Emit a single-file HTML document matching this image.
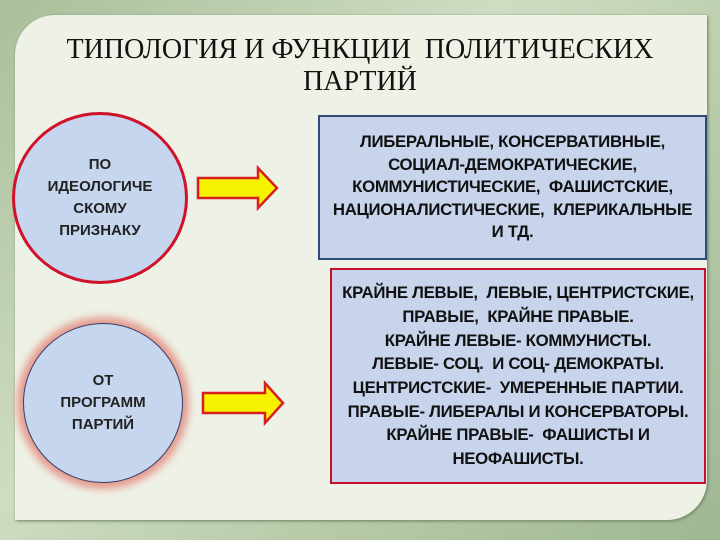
<!DOCTYPE html>
<html><head><meta charset="utf-8"><style>
body{margin:0;width:720px;height:540px;overflow:hidden;background:linear-gradient(135deg,#a9bf9a,#cfdcc2 40%,#b5c9a6 70%,#9fb793);font-family:"Liberation Sans","DejaVu Sans",sans-serif;position:relative}
.panel{position:absolute;left:15px;top:15px;width:692px;height:505px;background:#eef1e6;border-radius:40px 0 40px 0;box-shadow:1px 1px 3px #6a7f60}
.title{position:absolute;left:0;width:720px;top:34px;text-align:center;font-family:"Liberation Serif",serif;font-size:28px;line-height:32px;color:#111}
.c{position:absolute;border-radius:50%;background:#c5d6ee;display:flex;align-items:center;justify-content:center;text-align:center;font-weight:bold;font-size:15px;line-height:22px;color:#222}
.box{position:absolute;background:#c7d4ec;display:flex;align-items:center;justify-content:center;text-align:center;font-weight:bold;font-size:16.8px;color:#111;letter-spacing:-0.3px;white-space:nowrap}
</style></head><body>
<div class="panel"></div>
<div class="title">ТИПОЛОГИЯ И ФУНКЦИИ &nbsp;ПОЛИТИЧЕСКИХ<br>ПАРТИЙ</div>
<div class="c" style="left:12px;top:112px;width:170px;height:166px;border:3px solid #d0122a">ПО<br>ИДЕОЛОГИЧЕ<br>СКОМУ<br>ПРИЗНАКУ</div>
<div class="c" style="left:23px;top:323px;width:158px;height:158px;border:1.5px solid #33406a;box-shadow:0 0 8px 6px #e59a8e">ОТ<br>ПРОГРАММ<br>ПАРТИЙ</div>
<svg style="position:absolute;left:0;top:0" width="720" height="540">
<polygon points="198,178 258,178 258,168 277,188 258,208 258,198 198,198" fill="#f7f200" stroke="#d81f1f" stroke-width="2.5"/>
<polygon points="203,393 265,393 265,383 283,403 265,423 265,413 203,413" fill="#f7f200" stroke="#d81f1f" stroke-width="2.5"/>
</svg>
<div class="box" style="left:318px;top:115px;width:385px;height:141px;border:2px solid #2f4a78;line-height:22.5px">ЛИБЕРАЛЬНЫЕ, КОНСЕРВАТИВНЫЕ,<br>СОЦИАЛ-ДЕМОКРАТИЧЕСКИЕ,<br>КОММУНИСТИЧЕСКИЕ, &nbsp;ФАШИСТСКИЕ,<br>НАЦИОНАЛИСТИЧЕСКИЕ, &nbsp;КЛЕРИКАЛЬНЫЕ<br>И ТД.</div>
<div class="box" style="left:330px;top:268px;width:372px;height:212px;border:2px solid #c8102e;line-height:23.7px">КРАЙНЕ ЛЕВЫЕ, &nbsp;ЛЕВЫЕ, ЦЕНТРИСТСКИЕ,<br>ПРАВЫЕ, &nbsp;КРАЙНЕ ПРАВЫЕ.<br>КРАЙНЕ ЛЕВЫЕ- КОММУНИСТЫ.<br>ЛЕВЫЕ- СОЦ. &nbsp;И СОЦ- ДЕМОКРАТЫ.<br>ЦЕНТРИСТСКИЕ- &nbsp;УМЕРЕННЫЕ ПАРТИИ.<br>ПРАВЫЕ- ЛИБЕРАЛЫ И КОНСЕРВАТОРЫ.<br>КРАЙНЕ ПРАВЫЕ- &nbsp;ФАШИСТЫ И<br>НЕОФАШИСТЫ.</div>
</body></html>
